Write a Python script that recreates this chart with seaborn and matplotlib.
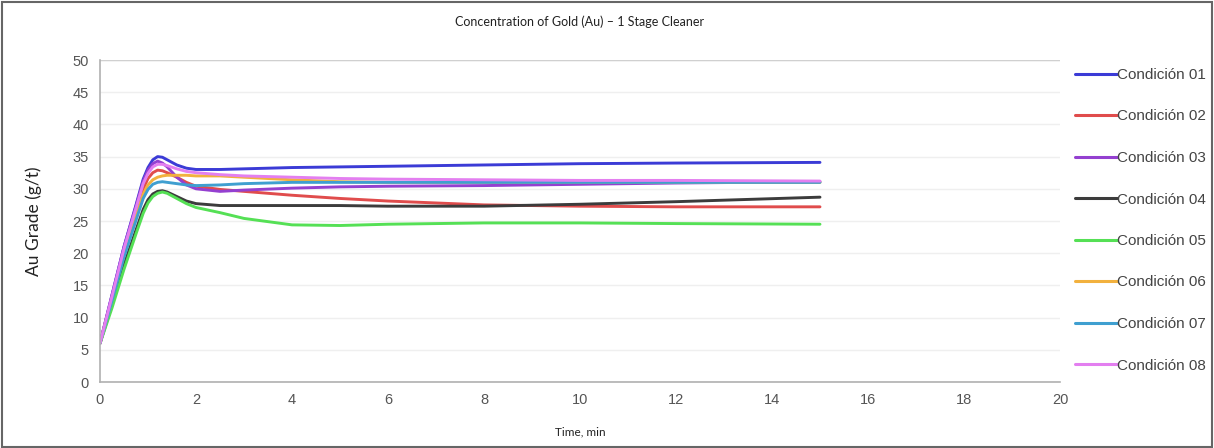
import numpy as np
import pandas as pd
import matplotlib
matplotlib.use('agg')
import matplotlib.pyplot as plt
import seaborn as sns
from matplotlib.patches import Rectangle

# values
time_min = [0, 0.25, 0.5, 0.75, 0.9, 1.0, 1.1, 1.2, 1.3, 1.4, 1.6, 1.8, 2,
            2.5, 3, 4, 5, 6, 8, 10, 12, 15]

cond_01 = [6.0, 13.5, 21.0, 27.5, 31.5, 33.3, 34.5, 35.0, 34.9, 34.5, 33.7, 33.2, 33.0,
           33.0, 33.1, 33.3, 33.4, 33.5, 33.7, 33.9, 34.0, 34.1]
cond_02 = [6.0, 13.2, 20.4, 26.5, 30.0, 31.6, 32.5, 32.9, 32.8, 32.5, 31.8, 31.0, 30.4,
           29.9, 29.6, 29.0, 28.5, 28.1, 27.5, 27.3, 27.2, 27.2]
cond_03 = [6.0, 13.5, 21.0, 27.3, 31.2, 32.9, 33.9, 34.3, 34.0, 33.4, 31.8, 30.6, 30.0,
           29.6, 29.8, 30.1, 30.3, 30.4, 30.5, 30.7, 30.9, 31.1]
cond_04 = [6.0, 12.0, 18.2, 23.6, 26.8, 28.3, 29.2, 29.6, 29.7, 29.5, 28.8, 28.1, 27.7,
           27.4, 27.4, 27.4, 27.4, 27.3, 27.3, 27.6, 28.0, 28.7]
cond_05 = [6.0, 11.5, 17.5, 23.0, 26.2, 27.8, 28.8, 29.3, 29.5, 29.3, 28.5, 27.7, 27.1,
           26.3, 25.4, 24.4, 24.3, 24.5, 24.7, 24.7, 24.6, 24.5]
cond_06 = [6.0, 12.8, 19.8, 25.7, 29.2, 30.6, 31.4, 31.8, 32.0, 32.1, 32.1, 32.1, 32.0,
           32.0, 31.8, 31.4, 31.1, 31.0, 31.0, 31.0, 31.0, 31.0]
cond_07 = [6.0, 12.6, 19.4, 25.1, 28.5, 29.9, 30.7, 31.0, 31.1, 31.0, 30.8, 30.6, 30.5,
           30.6, 30.8, 31.0, 31.0, 31.0, 31.0, 31.0, 31.0, 31.0]
cond_08 = [6.0, 13.3, 20.7, 27.0, 30.8, 32.4, 33.4, 33.8, 33.8, 33.6, 33.1, 32.7, 32.5,
           32.2, 32.0, 31.8, 31.6, 31.5, 31.4, 31.3, 31.3, 31.2]

labels = ["Condición 01", "Condición 02", "Condición 03", "Condición 04",
          "Condición 05", "Condición 06", "Condición 07", "Condición 08"]
series = [cond_01, cond_02, cond_03, cond_04, cond_05, cond_06, cond_07, cond_08]
colors = ["#3b3bd6", "#e04c4c", "#9440d0", "#3c3c3c",
          "#55e055", "#f2b13e", "#3f9fd0", "#e37ff0"]

rows = []
for lab, vals in zip(labels, series):
    for t, v in zip(time_min, vals):
        rows.append({"Time": t, "Grade": v, "Condition": lab})
df = pd.DataFrame(rows)

sns.set_style("white")
plt.rcParams['font.family'] = ['Liberation Sans', 'DejaVu Sans']

fig = plt.figure(figsize=(12.14, 4.48), dpi=100)
ax = fig.add_axes([100/1214, 1-382/448, 960/1214, 322/448])

sns.lineplot(data=df, x="Time", y="Grade", hue="Condition", palette=colors,
             linewidth=2.1, ax=ax, legend=False)

ax.set_xlim(0, 20)
ax.set_ylim(0, 50)
ax.set_xticks(range(0, 21, 2))
ax.set_yticks(range(0, 51, 5))
ax.tick_params(axis='both', length=0, labelsize=10.5, colors='#555555', pad=8)
ax.yaxis.grid(True, color='#efefef', linewidth=1)
ax.xaxis.grid(False)
for s in ['top', 'right']:
    ax.spines[s].set_visible(False)
for s in ['left', 'bottom']:
    ax.spines[s].set_color('#b0b0b0')
    ax.spines[s].set_linewidth(1.2)
ax.axhline(50, color='#d0d0d0', linewidth=1)

ax.set_xlabel("Time, min", fontsize=8.5, family=['Lato', 'DejaVu Sans'], color='#222222', labelpad=14)
ax.set_ylabel("Au Grade (g/t)", fontsize=12.5, family=['Lato', 'DejaVu Sans'], color='#222222', labelpad=22)
fig.text(580/1214, 1-22/448, "Concentration of Gold (Au) \u2013 1 Stage Cleaner",
         ha='center', va='center', fontsize=9, family=['Lato', 'DejaVu Sans'], color='#222222')

handles = [plt.Line2D([0], [0], color=c, linewidth=2.2) for c in colors]
fig.legend(handles, labels, loc='upper left', bbox_to_anchor=(1075/1214, 1-68/448),
           frameon=False, handlelength=2.75, handletextpad=0.0, labelspacing=1.8,
           borderpad=0, borderaxespad=0, fontsize=11, labelcolor='#444444')

fig.patches.append(Rectangle((0.002, 0.003), 0.996, 0.993, transform=fig.transFigure,
                             fill=False, edgecolor='#666666', linewidth=1.5))

fig.savefig("out.png", dpi=100)
